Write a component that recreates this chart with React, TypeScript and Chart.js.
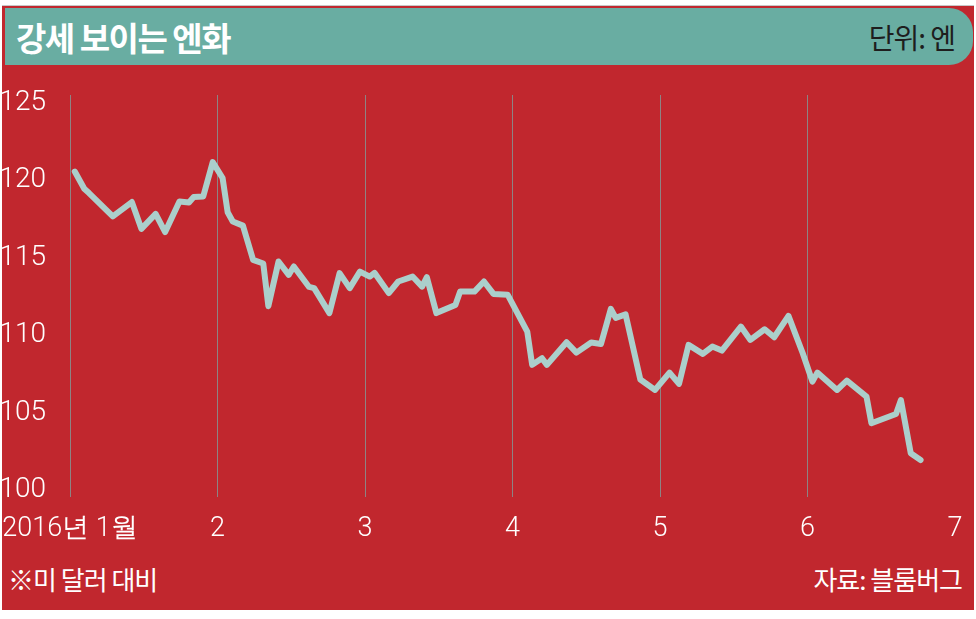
import React, { useEffect, useRef } from "react";
import { Chart, registerables } from "chart.js";

Chart.register(...registerables);

const title = "강세 보이는 엔화";
const unitLabel = "단위: 엔";
const noteLabel = "※미 달러 대비";
const sourceLabel = "자료: 블룸버그";

const dates = [
  "2016-01-02", "2016-01-04", "2016-01-05", "2016-01-10", "2016-01-14", "2016-01-16", "2016-01-19",
  "2016-01-21", "2016-01-24", "2016-01-26", "2016-01-27", "2016-01-29", "2016-01-31",
  "2016-02-02", "2016-02-03", "2016-02-04", "2016-02-06", "2016-02-08", "2016-02-10", "2016-02-11",
  "2016-02-13", "2016-02-15", "2016-02-16", "2016-02-19", "2016-02-20", "2016-02-23", "2016-02-25",
  "2016-02-27", "2016-02-29",
  "2016-03-02", "2016-03-03", "2016-03-06", "2016-03-08", "2016-03-11", "2016-03-13", "2016-03-14",
  "2016-03-16", "2016-03-20", "2016-03-21", "2016-03-24", "2016-03-26", "2016-03-28", "2016-03-31",
  "2016-04-04", "2016-04-05", "2016-04-07", "2016-04-08", "2016-04-12", "2016-04-14", "2016-04-17",
  "2016-04-19", "2016-04-21", "2016-04-22", "2016-04-24", "2016-04-27", "2016-04-30",
  "2016-05-03", "2016-05-05", "2016-05-07", "2016-05-10", "2016-05-12", "2016-05-14", "2016-05-18",
  "2016-05-20", "2016-05-23", "2016-05-25", "2016-05-28", "2016-05-31",
  "2016-06-02", "2016-06-03", "2016-06-07", "2016-06-09", "2016-06-13", "2016-06-14", "2016-06-19",
  "2016-06-20", "2016-06-22", "2016-06-24",
];

const yen = [
  120.56, 119.45, 119.17, 117.66, 118.59, 116.86, 117.83,
  116.65, 118.62, 118.56, 118.91, 118.95, 121.17,
  120.14, 117.93, 117.33, 117.07, 114.86, 114.62, 111.87,
  114.75, 113.89, 114.43, 113.11, 113.03, 111.42, 114.0,
  113.03, 114.1,
  113.78, 114.02, 112.71, 113.46, 113.78, 113.13, 113.74,
  111.42, 111.95, 112.81, 112.81, 113.46, 112.66, 112.6,
  110.23, 108.08, 108.51, 108.08, 109.54, 108.87, 109.52,
  109.43, 111.69, 111.11, 111.34, 107.13, 106.46,
  107.58, 106.85, 109.37, 108.79, 109.26, 109.0, 110.55,
  109.69, 110.38, 109.86, 111.24, 108.83,
  107.0, 107.58, 106.46, 107.06, 106.03, 104.31, 104.91,
  105.81, 102.37, 101.94,
];

const monthTicks = [1, 2, 3, 4, 5, 6, 7];
const monthLabels = ["2016년 1월", "2", "3", "4", "5", "6", "7"];
const yTicks = [100, 105, 110, 115, 120, 125];

function toMonthPos(d: string): number {
  const [y, m, day] = d.split("-").map(Number);
  const dim = new Date(y, m, 0).getDate();
  return m + (day - 1) / dim;
}

const RED = "#c1272e";
const TEAL = "#69ada2";
const LINE = "#abcfcb";
const GRID = "#8e8383";
const NUM_FONT = "'Roboto', 'Liberation Sans', sans-serif";
const KR_FONT = "'Noto Sans CJK KR', 'Noto Sans', sans-serif";

export default function App() {
  const canvasRef = useRef<HTMLCanvasElement | null>(null);

  useEffect(() => {
    if (!canvasRef.current) return;
    const points = dates.map((d, i) => ({ x: toMonthPos(d), y: yen[i] }));
    const chart = new Chart(canvasRef.current, {
      type: "line",
      data: {
        datasets: [
          {
            data: points,
            borderColor: LINE,
            borderWidth: 6,
            pointRadius: 0,
            tension: 0,
            borderJoinStyle: "round",
            borderCapStyle: "round",
            fill: false,
          },
        ],
      },
      options: {
        animation: false,
        responsive: true,
        maintainAspectRatio: false,
        layout: { padding: { top: 95, right: 21, left: 0, bottom: 0 } },
        plugins: { legend: { display: false }, tooltip: { enabled: false } },
        scales: {
          x: {
            type: "linear",
            min: 1,
            max: 7,
            afterBuildTicks: (scale: any) => {
              scale.ticks = monthTicks.map((v) => ({ value: v }));
            },
            afterFit: (scale: any) => {
              scale.height = 63;
              scale.paddingLeft = 0;
              scale.paddingRight = 0;
            },
            border: { display: false },
            grid: {
              drawTicks: false,
              lineWidth: 1,
              color: (ctx: any) =>
                ctx.tick && ctx.tick.value === 7 ? "rgba(0,0,0,0)" : GRID,
            },
            ticks: {
              padding: 16,
              color: "#ffffff",
              font: { family: NUM_FONT, size: 27, weight: 300 as any },
              maxRotation: 0,
              autoSkip: false,
              callback: (v: any) => {
                const idx = monthTicks.indexOf(Number(v));
                return idx >= 0 ? monthLabels[idx] : "";
              },
            },
          },
          y: {
            min: 99.55,
            max: 125.5,
            afterBuildTicks: (scale: any) => {
              scale.ticks = yTicks.map((v) => ({ value: v }));
            },
            afterFit: (scale: any) => {
              scale.width = 70;
              scale.paddingTop = 0;
              scale.paddingBottom = 0;
            },
            border: { display: false },
            grid: { display: false, drawTicks: false },
            ticks: {
              padding: 24,
              color: "#ffffff",
              font: { family: NUM_FONT, size: 28, weight: 300 as any },
              callback: (v: any) => String(v),
            },
          },
        },
      },
    });
    return () => chart.destroy();
  }, []);

  return (
    <div
      style={{
        position: "absolute",
        left: 0,
        top: 0,
        width: 976,
        height: 619,
        background: "#ffffff",
        overflow: "hidden",
      }}
    >
      <div
        style={{
          position: "absolute",
          left: 2,
          top: 5,
          width: 972,
          height: 605,
          background: RED,
          borderTop: "1px solid #c8c8c8",
          boxSizing: "border-box",
        }}
      />
      <div
        style={{
          position: "absolute",
          left: 5,
          top: 8,
          width: 968,
          height: 57,
          background: TEAL,
          borderRadius: "0 24px 24px 0",
          display: "flex",
          alignItems: "center",
          justifyContent: "space-between",
          boxSizing: "border-box",
          padding: "0 18px 0 11px",
          fontFamily: KR_FONT,
        }}
      >
        <span style={{ color: "#ffffff", fontWeight: 700, fontSize: 33, letterSpacing: -1.5 }}>{title}</span>
        <span style={{ color: "#1e1e1e", fontWeight: 400, fontSize: 28, letterSpacing: -1 }}>{unitLabel}</span>
      </div>
      <div style={{ position: "absolute", left: 0, top: 0, width: 976, height: 560 }}>
        <canvas ref={canvasRef} />
      </div>
      <div
        style={{
          position: "absolute",
          left: 8,
          top: 561,
          color: "#ffffff",
          fontFamily: KR_FONT,
          fontSize: 26,
          fontWeight: 400,
          letterSpacing: -1,
          lineHeight: "36px",
        }}
      >
        {noteLabel}
      </div>
      <div
        style={{
          position: "absolute",
          right: 14,
          top: 561,
          color: "#ffffff",
          fontFamily: KR_FONT,
          fontSize: 26,
          fontWeight: 400,
          letterSpacing: -1,
          lineHeight: "36px",
        }}
      >
        {sourceLabel}
      </div>
    </div>
  );
}
